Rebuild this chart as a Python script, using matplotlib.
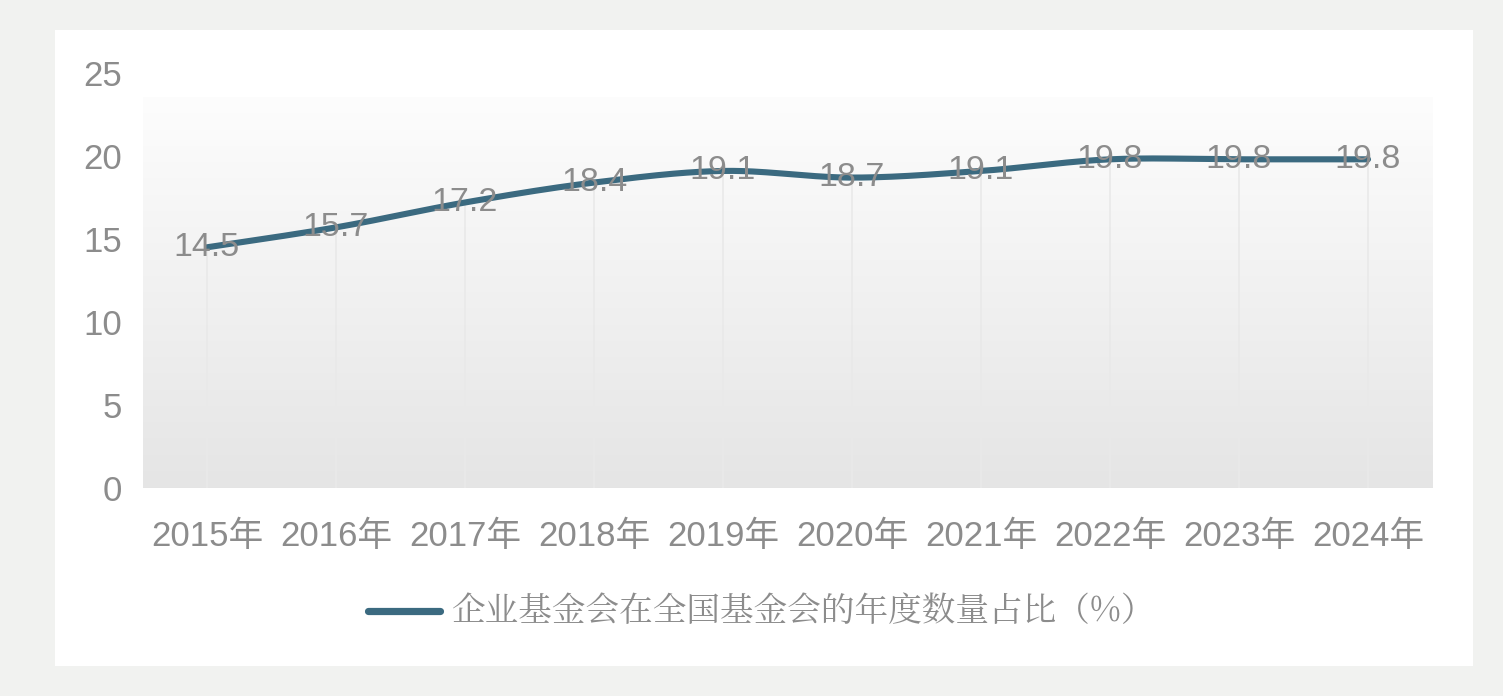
import numpy as np
import matplotlib
matplotlib.use("Agg")
import matplotlib.pyplot as plt
from matplotlib.patches import Rectangle
from matplotlib.lines import Line2D

years = ["2015年", "2016年", "2017年", "2018年", "2019年", "2020年", "2021年", "2022年", "2023年", "2024年"]
values = [14.5, 15.7, 17.2, 18.4, 19.1, 18.7, 19.1, 19.8, 19.8, 19.8]
yticks = [0, 5, 10, 15, 20, 25]
series_name = "企业基金会在全国基金会的年度数量占比（%）"

W, H = 1503, 696
fig = plt.figure(figsize=(W / 100, H / 100), dpi=100, facecolor="#f1f2f0")

# white card
fig.patches.append(Rectangle((55 / W, 1 - 666 / H), (1473 - 55) / W, (666 - 30) / H,
                             transform=fig.transFigure, facecolor="white", edgecolor="none", zorder=-10))

ax_l, ax_r, ax_t, ax_b = 142.5, 1432.5, 73, 488
ax = fig.add_axes([ax_l / W, 1 - ax_b / H, (ax_r - ax_l) / W, (ax_b - ax_t) / H])
ax.set_zorder(2)
ax.set_facecolor("none")
ax.set_xlim(-0.5, len(years) - 0.5)
ax.set_ylim(0, 25)

# gradient plot-area fill
grad_top = 23.55
g = np.linspace(0, 1, 256).reshape(-1, 1)
top_c = np.array([0.992, 0.992, 0.992])
bot_c = np.array([0.898, 0.898, 0.898])
img = bot_c + (top_c - bot_c) * g
img = np.repeat(img[:, None, :], 2, axis=1)
ax.imshow(img, extent=[-0.5, len(years) - 0.5, 0, grad_top], origin="lower",
          aspect="auto", zorder=0, interpolation="bicubic")

x = np.arange(len(values))
# drop lines
ax.vlines(x, 0, values, colors="#e9e9e9", linewidth=1.2, zorder=1)

# smoothed line (cubic Bezier, Catmull-Rom style control points)
y = np.array(values, dtype=float)
px, py = [], []
n = len(x)
for i in range(n - 1):
    x0, y0 = x[max(i - 1, 0)], y[max(i - 1, 0)]
    x1, y1 = x[i], y[i]
    x2, y2 = x[i + 1], y[i + 1]
    x3, y3 = x[min(i + 2, n - 1)], y[min(i + 2, n - 1)]
    c1x, c1y = x1 + (x2 - x0) / 6, y1 + (y2 - y0) / 6
    c2x, c2y = x2 - (x3 - x1) / 6, y2 - (y3 - y1) / 6
    t = np.linspace(0, 1, 40)
    bx = (1 - t) ** 3 * x1 + 3 * (1 - t) ** 2 * t * c1x + 3 * (1 - t) * t ** 2 * c2x + t ** 3 * x2
    by = (1 - t) ** 3 * y1 + 3 * (1 - t) ** 2 * t * c1y + 3 * (1 - t) * t ** 2 * c2y + t ** 3 * y2
    px.extend(bx)
    py.extend(by)
line_color = "#3b6a80"
ax.plot(px, py, color=line_color, linewidth=4.4, solid_capstyle="round", zorder=3)

fam = ["Liberation Sans", "Noto Sans CJK SC", "DejaVu Sans"]
txt_color = "#8c8c8c"
for xi, v in zip(x, values):
    ax.text(xi, v, f"{v:.1f}", ha="center", va="center", fontsize=24.5, color=txt_color,
            family=fam, zorder=4)

ax.set_xticks(x)
ax.set_xticklabels(years)
ax.set_yticks(yticks)
ax.tick_params(axis="both", length=0, labelsize=25, labelcolor=txt_color)
ax.tick_params(axis="y", pad=15, labelsize=25)
ax.tick_params(axis="x", pad=23)
for lab in ax.get_xticklabels() + ax.get_yticklabels():
    lab.set_family(fam)
for s in ax.spines.values():
    s.set_visible(False)

# legend
fig.lines.append(Line2D([368 / W, 440 / W], [1 - 611 / H, 1 - 611 / H], transform=fig.transFigure,
                        color=line_color, linewidth=5.2, solid_capstyle="round"))
fig.text(452 / W, 1 - 612 / H, series_name, ha="left", va="center", fontsize=24.2,
         color=txt_color, family=["Noto Serif CJK SC", "Noto Sans CJK SC", "DejaVu Sans"])

fig.savefig("out.png", dpi=100, facecolor=fig.get_facecolor())
